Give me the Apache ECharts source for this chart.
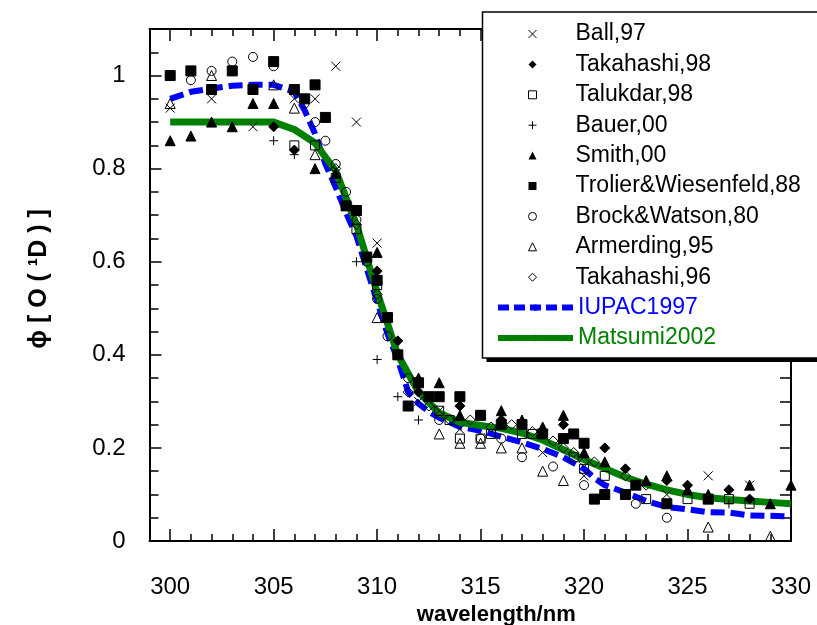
<!DOCTYPE html>
<html>
<head>
<meta charset="utf-8">
<script src="https://cdn.jsdelivr.net/npm/echarts@6/dist/echarts.min.js"></script>
<style>html,body{margin:0;padding:0;background:#fff}#c{width:817px;height:625px}</style>
</head>
<body>
<div id="c"></div>
<script>
const xTicks = [300, 305, 310, 315, 320, 325, 330];
const yTicks = [0, 0.2, 0.4, 0.6, 0.8, 1];

const ball = [[300,0.93],[302,0.95],[304,0.89],[306,0.95],[307,0.95],[308,1.02],[309,0.90],[310,0.64],[312,0.30],[313,0.28],[314,0.24],[318,0.19],[320,0.14],[324,0.10],[326,0.14],[328,0.12]];
const takahashi98 = [[305,0.89],[306,0.84],[310,0.58],[311,0.43],[312,0.32],[314,0.29],[316,0.26],[319,0.25],[321,0.20],[322,0.155],[324,0.13],[325,0.12],[327,0.11],[328,0.09]];
const talukdar = [[306,0.85],[307,0.85],[308,0.78],[309,0.67],[310,0.55],[313,0.28],[313.5,0.26],[314,0.22],[315,0.22],[315.5,0.23],[317,0.23],[317.5,0.23],[319.5,0.18],[320,0.155],[321,0.14],[323,0.09],[325,0.09],[326,0.09],[327,0.09],[328,0.08]];
const bauer = [[305,0.86],[306,0.83],[309,0.60],[310,0.39],[311,0.31],[312,0.26],[327,0.08]];
const smith = [[300,0.86],[301,0.87],[302,0.90],[303,0.89],[304,0.94],[305,0.94],[307,0.80],[308,0.79],[310,0.62],[312,0.35],[313,0.34],[314,0.27],[316,0.28],[317,0.26],[318,0.245],[319,0.27],[320,0.19],[321,0.17],[323,0.13],[324,0.14],[325,0.11],[326,0.10],[328,0.12],[329,0.08],[330,0.12]];
const trolier = [[300,1.00],[301,1.01],[302,0.97],[303,1.01],[304,0.97],[305,1.03],[306,0.97],[306.5,0.95],[307,0.98],[307.5,0.91],[308.5,0.72],[309,0.71],[309.5,0.61],[310,0.56],[310.5,0.48],[311,0.40],[311.5,0.29],[312,0.34],[312.5,0.31],[313,0.31],[314,0.31],[315,0.27],[316,0.25],[317,0.25],[318,0.23],[319,0.22],[319.5,0.23],[320,0.21],[320.5,0.09],[321,0.10],[322,0.10],[322.5,0.12],[324,0.08],[326,0.09]];
const brock = [[301,0.99],[302,1.01],[303,1.03],[304,1.04],[305,1.02],[306.5,0.94],[307,0.90],[307.5,0.86],[308,0.81],[308.5,0.75],[309,0.69],[309.5,0.60],[310,0.52],[310.5,0.44],[311.5,0.35],[313,0.26],[315,0.22],[316,0.22],[317,0.18],[318.5,0.16],[320,0.12],[322.5,0.08],[324,0.05]];
const armerding = [[300,0.94],[302,1.00],[305,0.98],[306,0.93],[307,0.83],[310,0.48],[313,0.23],[314,0.21],[315,0.21],[316,0.20],[317,0.20],[318,0.15],[319,0.13],[326,0.03],[329,0.01]];
const takahashi96 = [[308,0.80],[309,0.68],[310,0.53],[311,0.40],[311.5,0.32],[312.5,0.29],[313.5,0.26],[314.5,0.26],[315.5,0.245],[316.5,0.25],[317.5,0.235],[318.5,0.215],[319,0.20],[319.5,0.19],[320,0.17],[320.5,0.17],[322,0.14],[323,0.12]];
const iupac1997 = [[300,0.95],[301,0.965],[302,0.972],[303,0.978],[304,0.98],[305,0.98],[306,0.965],[306.5,0.925],[307,0.875],[307.5,0.81],[308,0.76],[308.5,0.705],[309,0.655],[309.5,0.585],[310,0.515],[310.5,0.445],[311,0.39],[311.5,0.32],[312,0.295],[312.5,0.278],[313,0.265],[314,0.245],[315,0.237],[316,0.224],[317,0.212],[318,0.198],[319,0.18],[320,0.155],[320.5,0.135],[321,0.12],[322,0.104],[323,0.086],[324,0.073],[325,0.068],[326,0.062],[327,0.061],[328,0.055],[329,0.054],[330,0.053]];
const matsumi2002 = [[300,0.90],[301,0.90],[302,0.90],[303,0.90],[304,0.90],[305,0.90],[306,0.884],[307,0.855],[308,0.795],[309,0.68],[310,0.535],[311,0.40],[312,0.32],[313,0.275],[314,0.255],[315,0.248],[316,0.242],[317,0.232],[318,0.217],[319,0.196],[320,0.175],[321,0.156],[322,0.137],[323,0.122],[324,0.11],[325,0.10],[326,0.093],[327,0.089],[328,0.086],[329,0.083],[330,0.08]];

const FONT = '"Liberation Sans", Arial, sans-serif';
const CROSS = 'path://M0,0L10,10M10,0L0,10';
const PLUS = 'path://M5,0L5,10M0,5L10,5';

const chart = echarts.init(document.getElementById('c'), null, {renderer: 'canvas'});

function xAx(pos, opts) {
  return Object.assign({
    type: 'value', position: pos, min: 299, max: 330,
    axisLine: {show: true, onZero: false, lineStyle: {color: '#000', width: 2}},
    axisLabel: {show: false},
    splitLine: {show: false}
  }, opts);
}
function yAx(pos, opts) {
  return Object.assign({
    type: 'value', position: pos, min: 0, max: 1.1,
    axisLine: {show: true, onZero: false, lineStyle: {color: '#000', width: 2}},
    axisLabel: {show: false},
    splitLine: {show: false}
  }, opts);
}

function scat(name, data, symbol, fill, size) {
  return {
    name: name, type: 'scatter', data: data, symbol: symbol, symbolSize: size || 9, z: 3,
    itemStyle: {color: fill, borderColor: '#000', borderWidth: 1, opacity: 1}
  };
}

const ROW = 30.4;
const LTOP = 22.5;

const option = {
  animation: false,
  backgroundColor: '#fff',
  textStyle: {fontFamily: FONT},
  grid: {left: 149.5, right: 26, top: 29, bottom: 84, outerBoundsMode: 'none', containLabel: false},
  xAxis: [
    xAx('bottom', {
      axisTick: {inside: true, length: 12, customValues: xTicks, lineStyle: {color: '#000', width: 1.5}},
      axisLabel: {show: true, customValues: xTicks, fontSize: 24, color: '#000', margin: 34, fontFamily: FONT},
      name: 'wavelength/nm', nameLocation: 'middle', nameGap: 55,
      nameTextStyle: {fontSize: 22, fontWeight: 'bold', color: '#000', fontFamily: FONT, padding: [0, 0, 0, 52]}
    }),
    xAx('bottom', {interval: 1, axisLine: {show: false, onZero: false}, axisTick: {inside: true, length: 7, lineStyle: {color: '#000', width: 1.5}}}),
    xAx('top', {interval: 1, axisTick: {inside: true, length: 7, lineStyle: {color: '#000', width: 1.5}}}),
    xAx('top', {axisLine: {show: false, onZero: false}, axisTick: {inside: true, length: 12, customValues: xTicks, lineStyle: {color: '#000', width: 1.5}}})
  ],
  yAxis: [
    yAx('left', {
      axisTick: {inside: true, length: 12, customValues: yTicks, lineStyle: {color: '#000', width: 1.5}},
      axisLabel: {show: true, customValues: yTicks, fontSize: 24, color: '#000', margin: 24, fontFamily: FONT},
      name: 'ϕ [ O ( ¹D ) ]', nameLocation: 'middle', nameGap: 98,
      nameTextStyle: {fontSize: 25, fontWeight: 'bold', color: '#000', fontFamily: FONT, padding: [0, 0, 0, 12]}
    }),
    yAx('left', {interval: 0.05, axisLine: {show: false, onZero: false}, axisTick: {inside: true, length: 9, lineStyle: {color: '#000', width: 1.5}}}),
    yAx('right', {interval: 0.05, axisTick: {inside: true, length: 11, lineStyle: {color: '#000', width: 1.5}}})
  ],
  graphic: [
    {type: 'rect', z: 20, shape: {x: 486.5, y: 16, width: 400, height: 346}, style: {fill: '#000'}},
    {type: 'rect', z: 21, shape: {x: 482.5, y: 12, width: 400, height: 346}, style: {fill: '#fff', stroke: '#000', lineWidth: 1.5}}
  ],
  legend: [
    {
      z: 30, orient: 'vertical', left: 528, top: LTOP, padding: 0,
      itemWidth: 8, itemHeight: 8, itemGap: ROW - 23,
      selectedMode: false,
      textStyle: {fontSize: 23, lineHeight: 23, color: '#000', fontFamily: FONT, padding: [0, 0, 0, 34]},
      data: [
        {name: 'Ball,97', icon: CROSS, itemStyle: {borderWidth: 1, borderColor: '#000'}},
        {name: 'Takahashi,98', icon: 'diamond', itemStyle: {borderWidth: 0}},
        {name: 'Talukdar,98', icon: 'rect', itemStyle: {borderWidth: 1, borderColor: '#000'}},
        {name: 'Bauer,00', icon: PLUS, itemStyle: {borderWidth: 1, borderColor: '#000'}},
        {name: 'Smith,00', icon: 'triangle', itemStyle: {borderWidth: 0}},
        {name: 'Trolier&Wiesenfeld,88', icon: 'rect', itemStyle: {borderWidth: 0}},
        {name: 'Brock&Watson,80', icon: 'circle', itemStyle: {borderWidth: 1, borderColor: '#000'}},
        {name: 'Armerding,95', icon: 'triangle', itemStyle: {borderWidth: 1, borderColor: '#000'}},
        {name: 'Takahashi,96', icon: 'diamond', itemStyle: {borderWidth: 1, borderColor: '#000'}}
      ]
    },
    {
      z: 30, orient: 'vertical', left: 495, top: LTOP + 9 * ROW, padding: 0,
      itemWidth: 75, itemHeight: 8, itemGap: ROW - 23,
      selectedMode: false,
      textStyle: {fontSize: 23, lineHeight: 23, color: '#000', fontFamily: FONT},
      data: [
        {name: 'IUPAC1997', textStyle: {color: '#0000ff'}, lineStyle: {width: 6, type: [11, 5]}},
        {name: 'Matsumi2002', textStyle: {color: '#008000'}, lineStyle: {width: 6}}
      ]
    }
  ],
  series: [
    {name: 'IUPAC1997', type: 'line', data: iupac1997, symbol: 'none', z: 1,
     lineStyle: {color: '#0000ff', width: 6, type: [14, 6]}, itemStyle: {color: '#0000ff'}},
    {name: 'Matsumi2002', type: 'line', data: matsumi2002, symbol: 'none', z: 1,
     lineStyle: {color: '#008000', width: 7}, itemStyle: {color: '#008000'}},
    scat('Ball,97', ball, CROSS, '#000', 9),
    scat('Takahashi,98', takahashi98, 'diamond', '#000', 10),
    scat('Talukdar,98', talukdar, 'rect', 'rgba(0,0,0,0)', 9),
    scat('Bauer,00', bauer, PLUS, '#000', 9),
    scat('Smith,00', smith, 'triangle', '#000', 10),
    scat('Trolier&Wiesenfeld,88', trolier, 'rect', '#000', 10),
    scat('Brock&Watson,80', brock, 'circle', 'rgba(0,0,0,0)', 9),
    scat('Armerding,95', armerding, 'triangle', 'rgba(0,0,0,0)', 10),
    scat('Takahashi,96', takahashi96, 'diamond', 'rgba(0,0,0,0)', 10)
  ]
};
chart.setOption(option);
</script>
</body>
</html>
